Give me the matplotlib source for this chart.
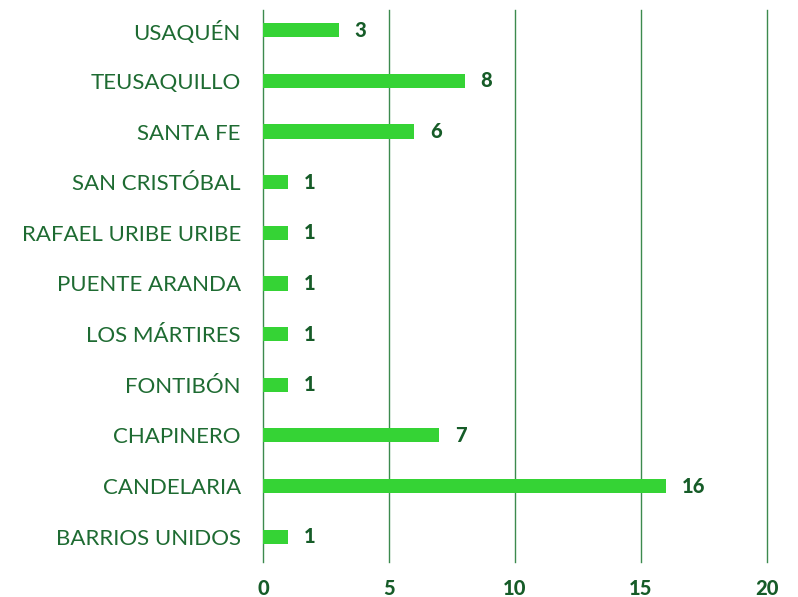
import matplotlib
matplotlib.use("Agg")
import matplotlib.pyplot as plt

categories = ["BARRIOS UNIDOS", "CANDELARIA", "CHAPINERO", "FONTIBÓN", "LOS MÁRTIRES",
              "PUENTE ARANDA", "RAFAEL URIBE URIBE", "SAN CRISTÓBAL", "SANTA FE",
              "TEUSAQUILLO", "USAQUÉN"]
values = [1, 16, 7, 1, 1, 1, 1, 1, 6, 8, 3]
xticks = [0, 5, 10, 15, 20]

bar_color = "#35D335"
text_color = "#1E6B32"
num_color = "#165C28"
grid_color = "#3C8A4E"

plt.rcParams['font.family'] = ['Lato', 'DejaVu Sans']

fig = plt.figure(figsize=(7.98, 5.97), dpi=100)
ax = fig.add_axes([263/798, 1-562/597, (767-263)/798, (562-10)/597])

y = list(range(len(categories)))
ax.barh(y, values, height=0.28, color=bar_color, zorder=3)
for yi, v in zip(y, values):
    ax.annotate(str(v), (v, yi), xytext=(16, 0), textcoords="offset pixels",
                va="center", ha="left", fontsize=14.5, fontweight="black", color=num_color)

ax.set_xlim(0, 20)
ax.set_ylim(-0.5, 10.4)
ax.set_xticks(xticks)
ax.set_xticklabels([str(t) for t in xticks], fontsize=14.5, fontweight="black", color=num_color)
ax.set_yticks(y)
ax.set_yticklabels(categories, fontsize=16, color=text_color)
ax.tick_params(axis="both", length=0)
ax.tick_params(axis="x", pad=12)
ax.tick_params(axis="y", pad=16)
ax.xaxis.grid(True, color=grid_color, linewidth=1.0, zorder=0)
for gl in ax.get_xgridlines():
    gl.set_clip_on(False)
for s in ax.spines.values():
    s.set_visible(False)

fig.savefig("out.png", dpi=100)
